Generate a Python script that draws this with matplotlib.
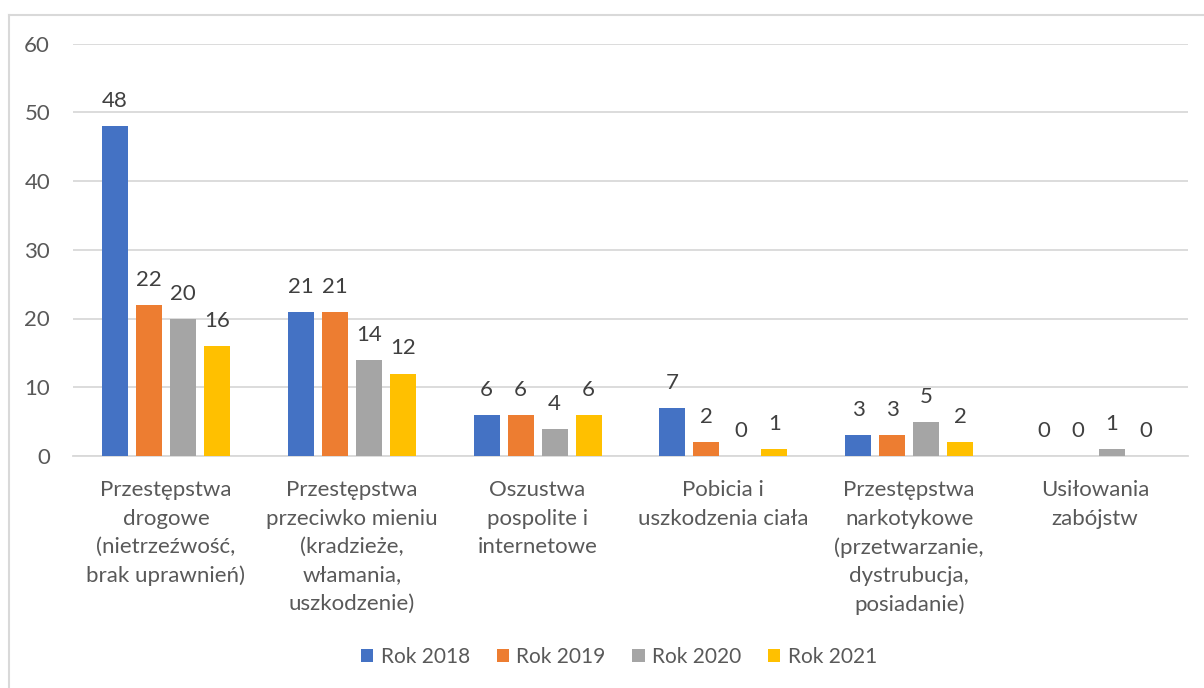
import matplotlib.pyplot as plt
from matplotlib.lines import Line2D
import numpy as np

plt.rcParams['font.family'] = ['Lato', 'DejaVu Sans']

# dane
categories = [
    'Przestępstwa\ndrogowe\n(nietrzeźwość,\nbrak uprawnień)',
    'Przestępstwa\nprzeciwko mieniu\n(kradzieże,\nwłamania,\nuszkodzenie)',
    'Oszustwa\npospolite i\ninternetowe',
    'Pobicia i\nuszkodzenia ciała',
    'Przestępstwa\nnarkotykowe\n(przetwarzanie,\ndystrubucja,\nposiadanie)',
    'Usiłowania\nzabójstw',
]
rok_2018 = [48, 21, 6, 7, 3, 0]
rok_2019 = [22, 21, 6, 2, 3, 0]
rok_2020 = [20, 14, 4, 0, 5, 1]
rok_2021 = [16, 12, 6, 1, 2, 0]
series_labels = ['Rok 2018', 'Rok 2019', 'Rok 2020', 'Rok 2021']
colors = ['#4472C4', '#ED7D31', '#A5A5A5', '#FFC000']

text_color = '#595959'
grid_color = '#D9D9D9'
fs = 16

fig = plt.figure(figsize=(12.04, 6.88), dpi=100)
ax = fig.add_axes([73 / 1204, 1 - 456 / 688, (1188 - 73) / 1204, (456 - 43.5) / 688])

x = np.arange(len(categories))
step = 0.183
width = 0.14
all_series = [rok_2018, rok_2019, rok_2020, rok_2021]
for i, (vals, lab, col) in enumerate(zip(all_series, series_labels, colors)):
    pos = x + (i - 1.5) * step
    ax.bar(pos, vals, width, color=col, label=lab, zorder=3)
    for xp, v in zip(pos, vals):
        ax.annotate(str(v), (xp, v), xytext=(0, 18), textcoords='offset points',
                    ha='center', va='center', fontsize=fs, color='#404040')

ax.set_xlim(-0.5, len(categories) - 0.5)
ax.set_ylim(0, 60)
ax.set_yticks(range(0, 61, 10))
ax.yaxis.grid(True, color=grid_color, linewidth=1.3, zorder=0)
ax.set_axisbelow(True)
for s in ['top', 'right', 'left']:
    ax.spines[s].set_visible(False)
ax.spines['bottom'].set_color(grid_color)
ax.spines['bottom'].set_linewidth(1.3)
ax.tick_params(axis='both', length=0, colors=text_color, labelsize=fs)
ax.tick_params(axis='y', pad=16.5)
ax.set_xticks(x)
ax.set_xticklabels(categories, linespacing=1.52)
ax.tick_params(axis='x', pad=17.5)

leg = fig.legend(loc='center', bbox_to_anchor=(619 / 1204, 1 - 657 / 688), ncol=4,
                 frameon=False, fontsize=15, handlelength=0.58, handleheight=0.58,
                 handletextpad=0.35, columnspacing=1.3)
for t in leg.get_texts():
    t.set_color(text_color)

# ramka wykresu
fig.add_artist(Line2D([8.5 / 1204, 8.5 / 1204], [0, 1 - 14.5 / 688],
                      color=grid_color, linewidth=1.5, transform=fig.transFigure))
fig.add_artist(Line2D([8.5 / 1204, 1], [1 - 14.5 / 688, 1 - 14.5 / 688],
                      color=grid_color, linewidth=1.5, transform=fig.transFigure))

fig.savefig('out.png', dpi=100)
